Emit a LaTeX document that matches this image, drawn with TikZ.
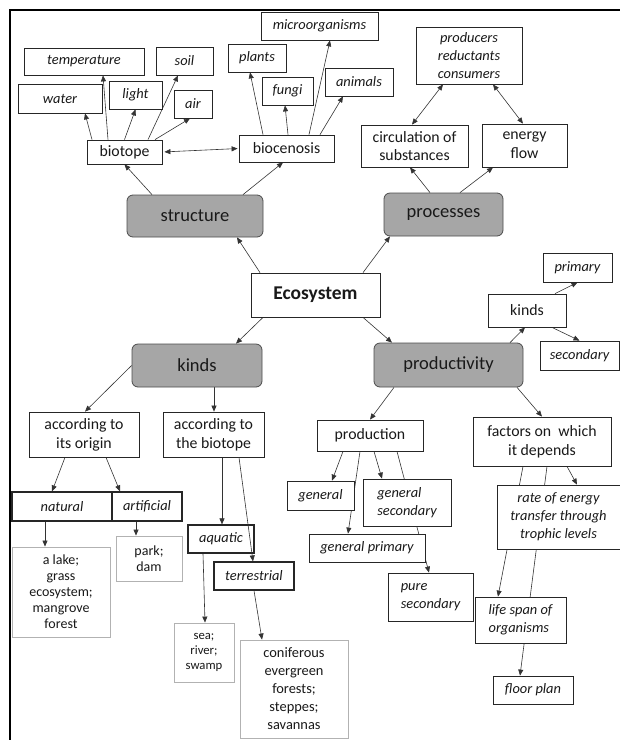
\documentclass[tikz,border=0pt]{standalone}
\usepackage{fontspec}
\setmainfont{Carlito}
\usepackage{tikz}
\usetikzlibrary{arrows.meta,backgrounds}

\begin{document}
\begin{tikzpicture}[x=1pt, y=-1pt,
      box/.style={draw=black!85, fill=white, line width=0.8pt, align=center,
                  inner sep=1pt, text=black!90, font=\fontsize{15.8}{18.8}\selectfont},
      leaf/.style={box, font=\fontsize{14.4}{17.8}\selectfont\itshape},
      heavy/.style={leaf, line width=1.2pt},
      topic/.style={draw=black!70, fill=black!35, rounded corners=6pt, line width=0.8pt,
                    text=black!90, font=\fontsize{18.5}{21}\selectfont},
      sample/.style={draw=black!30, fill=white, line width=0.9pt, align=center,
                     inner sep=1pt, text=black!90, font=\fontsize{14}{16}\selectfont},
      sz/.style 2 args={minimum width=#1pt, minimum height=#2pt},
      link/.style={->, draw=black!80, line width=0.6pt},
      >={Triangle[length=6pt,width=5pt]}]

    \useasboundingbox (0,0) rectangle (620,740);
    \draw[line width=2pt] (10,740) -- (10,10) -- (620,10);

    % centre
    \node[box, sz={129}{44}, font=\fontsize{19.5}{22}\selectfont\bfseries] (eco) at (315.5,295) {Ecosystem};
    \node[topic, sz={136}{42}] (structure) at (195,216) {structure};
    \node[topic, sz={119}{43}] (processes) at (443.5,214.5) {processes};
    \node[topic, sz={130}{43}] (kinds) at (197,365.5) {kinds};
    \node[topic, sz={149}{44}] (productivity) at (448.5,365) {productivity};

    % structure
    \node[box, sz={75}{24}] (biotope) at (124.5,152) {biotope};
    \node[box, sz={95}{27}] (bioc) at (286.5,148.5) {biocenosis};
    \node[leaf, sz={120}{27}] (temp) at (84,61.5) {temperature};
    \node[leaf, sz={84}{29}] (water) at (60,98.5) {water};
    \node[leaf, sz={53}{28}] (light) at (135.5,95) {light};
    \node[leaf, sz={57}{28}] (soil) at (184.5,61) {soil};
    \node[leaf, sz={38}{28}] (air) at (193,104) {air};
    \node[leaf, sz={58}{28}] (plants) at (257,58) {plants};
    \node[leaf, sz={51}{28}] (fungi) at (287.5,91) {fungi};
    \node[leaf, sz={117}{28}] (micro) at (319.5,26) {microorganisms};
    \node[leaf, sz={68}{28}] (animals) at (359,82) {animals};

    % processes
    \node[box, sz={107}{42}] (circ) at (414.5,146) {circulation of\\substances};
    \node[box, sz={85}{43}] (energy) at (524.5,145.5) {energy\\flow};
    \node[leaf, sz={106}{57}] (trophic) at (469,55.5) {producers\\reductants\\consumers};

    % kinds
    \node[box, sz={110}{45}] (origin) at (84,434.5) {according to\\its origin};
    \node[box, sz={101}{45}] (habitat) at (213.5,434.5) {according to\\the biotope};
    \node[heavy, sz={100}{29}] (natural) at (62,506.5) {natural};
    \node[heavy, sz={70}{29}] (artificial) at (147,506.5) {artificial};
    \node[heavy, sz={66}{28}] (aquatic) at (221,539) {aquatic};
    \node[heavy, sz={80}{28}] (terrestrial) at (254,576) {terrestrial};
    \node[sample, sz={98}{90}] (lake) at (61,592) {a lake;\\grass\\ecosystem;\\mangrove\\forest};
    \node[sample, sz={66}{45}] (park) at (149,558.5) {park;\\dam};
    \node[sample, sz={60}{59}, font=\fontsize{12.7}{15}\selectfont] (sea) at (204,652.5) {sea;\\river;\\swamp};
    \node[sample, sz={108}{98}, font=\fontsize{14.4}{18}\selectfont] (conif) at (294,689)
      {coniferous\\evergreen\\forests;\\steppes;\\savannas};

    % productivity
    \node[box, sz={78}{33}] (pkinds) at (527,310.5) {kinds};
    \node[leaf, sz={69}{29}] (primary) at (577.5,267.5) {primary};
    \node[leaf, sz={79}{29}] (secondary) at (579.5,355.5) {secondary};
    \node[box, sz={106}{31}] (production) at (370,435.5) {production};
    \node[box, sz={138}{49}] (factors) at (542,441.5) {factors on~ which\\it depends};
    \node[leaf, sz={67}{29}] (general) at (320.5,495.5) {general};
    \node[leaf, sz={88}{47}, align=left] (gensec) at (407,502.5) {general\\secondary};
    \node[leaf, sz={116}{28}] (genprim) at (367,548) {general primary};
    \node[leaf, sz={85}{48}, align=left] (puresec) at (430.5,597) {pure\\secondary};
    \node[leaf, sz={123}{64}] (rate) at (558.5,517) {rate of energy\\transfer through\\trophic levels};
    \node[leaf, sz={91}{46}, align=left] (life) at (520.5,620) {life span of\\organisms};
    \node[leaf, sz={80}{28}] (floor) at (533,690) {floor plan};

    \begin{pgfonlayer}{background}
      \draw[link] ([xshift=-55.5pt]eco.north) -- ([xshift=42pt]structure.south);
      \draw[link] ([xshift=47.5pt]eco.north) -- ([xshift=-53.5pt]processes.south);
      \draw[link] ([xshift=-52.5pt]eco.south) -- ([xshift=39pt]kinds.north);
      \draw[link] ([xshift=47.5pt]eco.south) -- ([xshift=-56.5pt]productivity.north);

      \draw[link] ([xshift=-43pt]structure.north) -- (biotope.south);
      \draw[link] ([xshift=48pt]structure.north) -- ([xshift=-3.5pt]bioc.south);
      \draw[<->, draw=black!80, line width=0.6pt, shorten <=2pt, shorten >=1pt] (biotope.east) -- (bioc.west);
      \draw[link] ([xshift=-32.5pt]biotope.north) -- ([xshift=25pt]water.south);
      \draw[link] ([xshift=-16.5pt]biotope.north) -- ([xshift=19pt]temp.south);
      \draw[link] (biotope.north) -- (light.south);
      \draw[link] ([xshift=23.5pt]biotope.north) -- ([xshift=-6.5pt]soil.south);
      \draw[link] ([xshift=30.5pt]biotope.north) -- ([xshift=-3pt]air.south);
      \draw[link] ([xshift=-23.5pt]bioc.north) -- ([xshift=-7pt]plants.south);
      \draw[link] ([xshift=1.5pt]bioc.north) -- ([xshift=-2.5pt]fungi.south);
      \draw[link] ([xshift=22.5pt]bioc.north) -- ([xshift=10.5pt]micro.south);
      \draw[link] ([xshift=33.5pt]bioc.north) -- ([xshift=-16pt]animals.south);

      \draw[link] ([xshift=-13.5pt]processes.north) -- ([xshift=-4.5pt]circ.south);
      \draw[link] ([xshift=16.5pt]processes.north) -- ([xshift=-31.5pt]energy.south);
      \draw[<->, draw=black!80, line width=0.6pt] ([xshift=-2.5pt]circ.north) -- ([xshift=-26pt]trophic.south);
      \draw[<->, draw=black!80, line width=0.6pt] ([xshift=-1.5pt]energy.north) -- ([xshift=24pt]trophic.south);

      \draw[link] (kinds.west) -- ([xshift=1pt]origin.north);
      \draw[link] ([xshift=17pt]kinds.south) -- ([xshift=0.5pt]habitat.north);
      \draw[link] ([xshift=-19pt]origin.south) -- ([xshift=-10pt]natural.north);
      \draw[link] ([xshift=22pt]origin.south) -- ([xshift=-27pt]artificial.north);
      \draw[link] ([xshift=-17pt]natural.south) -- ([xshift=-16pt]lake.north);
      \draw[link] ([xshift=-11pt]artificial.south) -- ([xshift=-13pt]park.north);
      \draw[link] ([xshift=8.5pt]habitat.south) -- ([xshift=1pt]aquatic.north);
      \draw[link] ([xshift=-18pt]aquatic.south) -- ([xshift=1pt]sea.north);
      \draw[link] (terrestrial.south) -- ([xshift=-32pt]conif.north);

      \draw[link] ([xshift=61.5pt]productivity.north) -- ([xshift=-2pt]pkinds.south);
      \draw[link] ([xshift=28pt]pkinds.north) -- (primary.south);
      \draw[link] ([xshift=25pt]pkinds.south) -- (secondary.north);
      \draw[link] ([xshift=-54.5pt]productivity.south) -- (production.north);
      \draw[link] ([xshift=68.5pt]productivity.south) -- (factors.north);
      \draw[link] ([xshift=-27pt]production.south) -- ([xshift=11.5pt]general.north);
      \draw[link] ([xshift=-10pt]production.south) -- ([xshift=-19pt]genprim.north);
      \draw[link] ([xshift=4pt]production.south) -- ([xshift=-25pt]gensec.north);
      \draw[link] ([xshift=27pt]production.south) -- ([xshift=-1.5pt]puresec.north);
      \draw[link] ([xshift=25pt]factors.south) -- ([xshift=18.5pt]rate.north);
      \draw[link] ([xshift=-19pt]factors.south) -- ([xshift=-22.5pt]life.north);
      \draw[link] ([xshift=5pt]factors.south) -- ([xshift=-13pt]floor.north);
    \end{pgfonlayer}
    \draw[link] ([xshift=25.5pt]habitat.south) -- ([xshift=-1pt]terrestrial.north);
  \end{tikzpicture}
\end{document}
